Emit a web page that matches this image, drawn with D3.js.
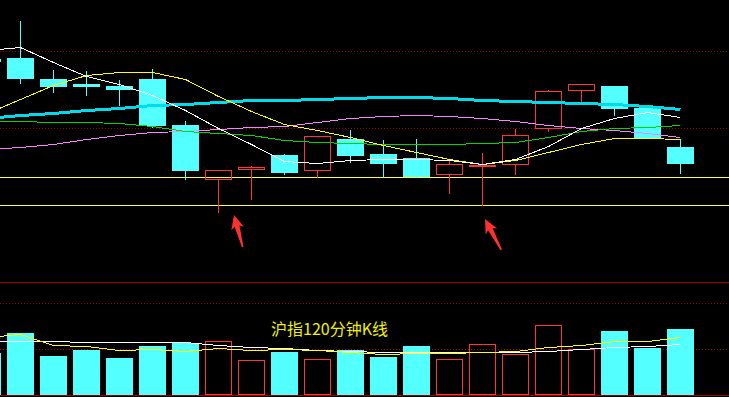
<!DOCTYPE html>
<html>
<head>
<meta charset="utf-8">
<script src="https://cdn.jsdelivr.net/npm/d3@7/dist/d3.min.js"></script>
<style>
html, body { margin: 0; padding: 0; background: #000; overflow: hidden; }
</style>
</head>
<body>
<div id="chart"></div>
<script>
// 120 minute bars
const open  = [3239.6, 3240.9, 3213.6, 3207.1, 3204.5, 3213.6, 3153.9, 3083.8, 3096.8, 3114.9, 3095.5,
               3135.7, 3116.2, 3111.0, 3090.3, 3100.6, 3103.2, 3150.0, 3199.4, 3204.5, 3176.0, 3125.3];
const high  = [3244.8, 3289.0, 3225.3, 3224.0, 3212.3, 3226.6, 3159.1, 3095.5, 3100.6, 3116.2, 3139.6,
               3147.4, 3134.4, 3135.7, 3108.4, 3117.5, 3148.7, 3199.4, 3207.1, 3204.5, 3176.0, 3135.7];
const low   = [3233.1, 3208.4, 3196.8, 3192.9, 3179.9, 3151.3, 3083.8, 3040.9, 3057.8, 3090.3, 3086.4,
               3105.8, 3086.4, 3086.4, 3065.6, 3050.0, 3090.3, 3146.1, 3185.1, 3166.9, 3138.3, 3091.6];
const close = [3237.0, 3214.9, 3204.5, 3204.5, 3200.6, 3153.9, 3095.5, 3095.5, 3099.4, 3092.9, 3139.6,
               3114.9, 3104.5, 3087.7, 3103.2, 3101.9, 3140.9, 3198.1, 3207.1, 3176.0, 3138.3, 3104.5];
const volume = [91, 135, 85, 98, 80, 107, 113, 117, 76, 93, 78, 98, 83, 107, 78, 111, 89, 152, 100, 139, 102, 143];

// moving averages
const ma5  = [3251.3, 3255.2, 3235.7, 3217.5, 3207.1, 3192.9, 3173.4, 3150.0, 3129.2, 3107.1, 3104.5,
              3108.4, 3109.7, 3109.7, 3108.4, 3103.2, 3109.7, 3126.6, 3150.0, 3163.0, 3170.8, 3164.3];
const ma10 = [3169.5, 3187.7, 3205.8, 3218.8, 3222.7, 3222.7, 3213.6, 3191.6, 3172.1, 3155.2, 3147.4,
              3138.3, 3127.9, 3118.8, 3109.7, 3103.2, 3108.4, 3118.8, 3129.2, 3137.0, 3137.0, 3135.7];
const ma20 = [3122.7, 3125.3, 3129.2, 3135.7, 3140.9, 3144.8, 3146.1, 3148.7, 3151.3, 3152.6, 3157.8,
              3163.0, 3165.6, 3166.9, 3165.6, 3163.0, 3159.1, 3153.9, 3150.0, 3147.4, 3143.5, 3138.3];
const ma30 = [3159.1, 3159.1, 3157.8, 3157.8, 3156.5, 3152.6, 3146.1, 3143.5, 3140.9, 3134.4, 3131.8,
              3130.5, 3129.2, 3129.2, 3129.2, 3130.5, 3131.8, 3138.3, 3146.1, 3150.0, 3151.3, 3153.9];
const ma60 = [3163.0, 3166.9, 3169.5, 3173.4, 3176.0, 3179.9, 3181.2, 3183.8, 3186.4, 3186.4, 3187.7,
              3189.0, 3190.3, 3190.3, 3189.0, 3186.4, 3185.1, 3183.8, 3182.5, 3181.2, 3178.6, 3174.7];
const volMa5  = [117.4, 117.4, 117.4, 115.2, 115.2, 115.2, 115.2, 108.7, 104.3, 102.2, 97.8,
                 95.7, 93.5, 93.5, 93.5, 93.5, 93.5, 95.7, 100.0, 104.3, 106.5, 110.9];
const volMa10 = [126.1, 132.6, 108.7, 106.5, 97.8, 100.0, 95.7, 102.2, 97.8, 100.0, 97.8,
                 93.5, 89.1, 91.3, 91.3, 93.5, 95.7, 104.3, 108.7, 117.4, 117.4, 126.1];

// reference levels
const priceGrid = [3250, 3150];
const priceLines = [3086.4, 3050.0];
const volGrid = [100, 200];
const title = "沪指120分钟K线";
const markedBars = [7, 15];

const W = 729, H = 397;
const n = open.length;
const UP = "#ff3535", DOWN = "#54ffff";

const svg = d3.select("#chart").append("svg")
    .attr("width", W)
    .attr("height", H)
    .style("display", "block")
    .style("background", "#000");

// scales
const x = d3.scaleBand()
    .domain(d3.range(n))
    .range([-29, 697])
    .paddingInner(6 / 33)
    .paddingOuter(3 / 33);
const bw = Math.round(x.bandwidth());
const cx = i => x(i) + 13.5;

const y = d3.scaleLinear().domain([3050, 3250]).range([205, 51]);
const yv = d3.scaleLinear().domain([0, 200]).range([395, 303]);
const py = v => Math.round(y(v));
const pv = v => Math.round(yv(v));

// grid lines
svg.append("g").selectAll("line")
    .data(priceGrid)
    .join("line")
      .attr("x1", 0).attr("x2", W)
      .attr("y1", d => py(d) + 0.5).attr("y2", d => py(d) + 0.5)
      .attr("stroke", "#a00000")
      .attr("stroke-dasharray", "1,2");

svg.append("g").selectAll("line")
    .data(volGrid)
    .join("line")
      .attr("x1", 0).attr("x2", W)
      .attr("y1", d => pv(d) + 0.5).attr("y2", d => pv(d) + 0.5)
      .attr("stroke", "#a00000")
      .attr("stroke-dasharray", "1,2");

// panel borders
svg.append("line")
    .attr("x1", 0).attr("x2", W).attr("y1", 282.5).attr("y2", 282.5)
    .attr("stroke", "#a00000");
svg.append("line")
    .attr("x1", 0).attr("x2", W).attr("y1", 395.5).attr("y2", 395.5)
    .attr("stroke", "#a00000");

// horizontal price lines
svg.append("g").selectAll("line")
    .data(priceLines)
    .join("line")
      .attr("x1", 0).attr("x2", W)
      .attr("y1", d => py(d) + 0.5).attr("y2", d => py(d) + 0.5)
      .attr("stroke", "#ffff40");

// candles
const idx = d3.range(n);
const isUp = i => close[i] >= open[i];
const candles = svg.append("g").attr("shape-rendering", "crispEdges");

// wicks
candles.selectAll(".wick-hi")
    .data(idx)
    .join("line")
      .attr("x1", i => x(i) + 13.5).attr("x2", i => x(i) + 13.5)
      .attr("y1", i => py(high[i]))
      .attr("y2", i => isUp(i) ? py(Math.max(open[i], close[i])) : py(low[i]) + 1)
      .attr("stroke", i => isUp(i) ? UP : DOWN);
candles.selectAll(".wick-lo")
    .data(idx.filter(isUp))
    .join("line")
      .attr("x1", i => x(i) + 13.5).attr("x2", i => x(i) + 13.5)
      .attr("y1", i => py(open[i]) + 1)
      .attr("y2", i => py(low[i]) + 1)
      .attr("stroke", UP);

// bodies
candles.selectAll(".body-dn")
    .data(idx.filter(i => !isUp(i)))
    .join("rect")
      .attr("x", i => x(i))
      .attr("y", i => py(open[i]))
      .attr("width", bw)
      .attr("height", i => Math.max(1, py(close[i]) - py(open[i]) + 1))
      .attr("fill", DOWN);
candles.selectAll(".body-up")
    .data(idx.filter(isUp))
    .join("rect")
      .attr("x", i => x(i) + 0.5)
      .attr("y", i => py(close[i]) + 0.5)
      .attr("width", bw - 1)
      .attr("height", i => Math.max(1, py(open[i]) - py(close[i])))
      .attr("fill", "none")
      .attr("stroke", UP);

// moving averages
const priceLine = d3.line().x((d, i) => cx(i)).y(d => py(d) + 0.5);
const mas = [
    {values: ma60, color: "#00dcec", width: 3},
    {values: ma20, color: "#ff80ff", width: 1},
    {values: ma30, color: "#00d800", width: 1},
    {values: ma10, color: "#ffff00", width: 1},
    {values: ma5,  color: "#ffffff", width: 1}
];
svg.append("g").selectAll("path")
    .data(mas)
    .join("path")
      .attr("d", d => priceLine(d.values))
      .attr("fill", "none")
      .attr("stroke", d => d.color)
      .attr("stroke-width", d => d.width)
      .attr("shape-rendering", "crispEdges");

// volume bars
const vol = svg.append("g").attr("shape-rendering", "crispEdges");
vol.selectAll(".v-dn")
    .data(idx.filter(i => !isUp(i)))
    .join("rect")
      .attr("x", i => x(i))
      .attr("y", i => pv(volume[i]))
      .attr("width", bw)
      .attr("height", i => 395 - pv(volume[i]))
      .attr("fill", DOWN);
vol.selectAll(".v-up")
    .data(idx.filter(isUp))
    .join("rect")
      .attr("x", i => x(i) + 0.5)
      .attr("y", i => pv(volume[i]) + 0.5)
      .attr("width", bw - 1)
      .attr("height", i => 394 - pv(volume[i]))
      .attr("fill", "none")
      .attr("stroke", UP);

const volLine = d3.line().x((d, i) => cx(i)).y(d => pv(d) + 0.5);
svg.append("g").selectAll("path")
    .data([{values: volMa5, color: "#ffffff"}, {values: volMa10, color: "#ffff00"}])
    .join("path")
      .attr("d", d => volLine(d.values))
      .attr("fill", "none")
      .attr("stroke", d => d.color)
      .attr("shape-rendering", "crispEdges");

// title
svg.append("text")
    .attr("x", 271)
    .attr("y", 335)
    .attr("font-family", "'Noto Sans CJK SC', 'Noto Sans', sans-serif")
    .attr("font-size", 16)
    .attr("fill", "#f0f000")
    .text(title);

// red arrows pointing at the lows
const arrowOffsets = [{dx: 15.5, dy: 3, tx: 8.5, ty: 32}, {dx: 2.5, dy: 14, tx: 16, ty: 31}];
svg.append("g").selectAll("path")
    .data(markedBars.map((b, k) => ({b, ...arrowOffsets[k]})))
    .join("path")
      .attr("transform", d => {
          const ang = Math.atan2(d.ty, d.tx) * 180 / Math.PI - 90;
          return `translate(${cx(d.b) + d.dx},${y(low[d.b]) + d.dy}) rotate(${ang})`;
      })
      .attr("d", d => {
          const L = Math.hypot(d.tx, d.ty);
          return `M0,0 L6.5,14 L2.6,11.5 L1,${L} L-0.6,${L} L-2.4,11.5 L-6.5,14 Z`;
      })
      .attr("fill", "#ff3030");
</script>
</body>
</html>
